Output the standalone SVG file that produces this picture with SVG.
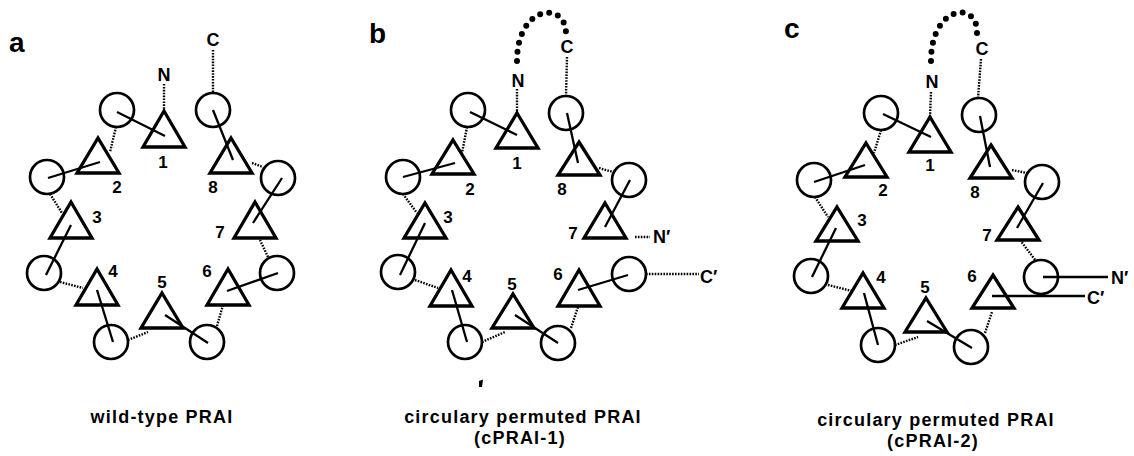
<svg xmlns="http://www.w3.org/2000/svg" width="1134" height="456" viewBox="0 0 1134 456">
  <style>
    .circ { fill: none; stroke: #000; stroke-width: 2.7; }
    .tri { fill: none; stroke: #000; stroke-width: 3.3; stroke-linejoin: miter; }
    .solid { fill: none; stroke: #000; stroke-width: 2.3; }
    .dot { fill: none; stroke: #000; stroke-width: 2.4; stroke-dasharray: 1.6 1.3; }
    .loop { fill: none; stroke: #000; stroke-width: 6; stroke-linecap: round; stroke-dasharray: 0 9.2; }
    .panel { font-family: "Liberation Sans", Arial, sans-serif; font-weight: bold; font-size: 28px; fill: #000; }
    .num { font-family: "Liberation Sans", Arial, sans-serif; font-weight: bold; font-size: 17px; fill: #000; text-anchor: middle; }
    .term { font-family: "Liberation Sans", Arial, sans-serif; font-weight: bold; font-size: 18px; fill: #000; }
    .cap { font-family: "Liberation Sans", Arial, sans-serif; font-weight: bold; font-size: 18px; letter-spacing: 1.2px; fill: #000; text-anchor: middle; }
  </style>

  <!-- ===== a: wild-type ===== -->
  <g id="panel-a">
    <text class="panel" x="9" y="52">a</text>
    <g id="a-connectors">
      <line class="dot" x1="164" y1="84" x2="164" y2="110"/>
      <line class="dot" x1="213" y1="50" x2="213" y2="93"/>
      <line class="dot" x1="116" y1="127" x2="110" y2="152"/>
      <line class="dot" x1="50" y1="194" x2="62" y2="213"/>
      <line class="dot" x1="60" y1="282" x2="83" y2="288"/>
      <line class="dot" x1="128" y1="340" x2="148" y2="332"/>
      <line class="dot" x1="217" y1="326" x2="223" y2="305"/>
      <line class="dot" x1="268" y1="257" x2="260" y2="240"/>
      <line class="dot" x1="252" y1="163" x2="263" y2="167"/>
      <line class="solid" x1="117" y1="112" x2="165" y2="136"/>
      <line class="solid" x1="48" y1="178" x2="100" y2="162"/>
      <line class="solid" x1="71" y1="225" x2="46" y2="275"/>
      <line class="solid" x1="97" y1="290" x2="113" y2="342"/>
      <line class="solid" x1="165" y1="315" x2="208" y2="343"/>
      <line class="solid" x1="227" y1="291" x2="278" y2="273"/>
      <line class="solid" x1="282" y1="178" x2="253" y2="223"/>
      <line class="solid" x1="213" y1="110" x2="233" y2="160"/>
    </g>
    <g id="a-b1"><circle class="circ" cx="117" cy="110" r="17"/></g>
    <g id="a-b2"><circle class="circ" cx="47" cy="177" r="17"/></g>
    <g id="a-b3"><circle class="circ" cx="44" cy="273" r="17"/></g>
    <g id="a-b4"><circle class="circ" cx="111" cy="342" r="17"/></g>
    <g id="a-b5"><circle class="circ" cx="207" cy="342" r="17"/></g>
    <g id="a-b6"><circle class="circ" cx="277" cy="273" r="17"/></g>
    <g id="a-b7"><circle class="circ" cx="278" cy="178" r="17"/></g>
    <g id="a-b8"><circle class="circ" cx="213" cy="110" r="17"/></g>
    <g id="a-h1"><path class="tri" d="M164,111 l21,36 h-42 z"/><text class="num" x="163" y="168">1</text></g>
    <g id="a-h2"><path class="tri" d="M98,138 l21,35 h-42 z"/><text class="num" x="117" y="193">2</text></g>
    <g id="a-h3"><path class="tri" d="M71,202 l21,36 h-42 z"/><text class="num" x="97" y="223">3</text></g>
    <g id="a-h4"><path class="tri" d="M97,269 l21,36 h-42 z"/><text class="num" x="113" y="277">4</text></g>
    <g id="a-h5"><path class="tri" d="M162,293 l21,35 h-42 z"/><text class="num" x="162" y="288">5</text></g>
    <g id="a-h6"><path class="tri" d="M228,269 l21,36 h-42 z"/><text class="num" x="207" y="277">6</text></g>
    <g id="a-h7"><path class="tri" d="M255,202 l21,36 h-42 z"/><text class="num" x="220" y="238">7</text></g>
    <g id="a-h8"><path class="tri" d="M231,138 l21,35 h-42 z"/><text class="num" x="213" y="193">8</text></g>
    <text class="term" x="164" y="81" text-anchor="middle">N</text>
    <text class="term" x="213" y="46" text-anchor="middle">C</text>
    <text class="cap" x="162" y="423">wild-type PRAI</text>
  </g>

  <!-- ===== b: cPRAI-1 ===== -->
  <g id="panel-b">
    <text class="panel" x="369" y="43">b</text>
    <g id="b-connectors">
      <path class="loop" d="M517,61 C517,5 566,0 566,34"/>
      <line class="dot" x1="517" y1="89" x2="517" y2="113"/>
      <line class="dot" x1="567" y1="57" x2="566" y2="96"/>
      <line class="dot" x1="467" y1="127" x2="462" y2="153"/>
      <line class="dot" x1="403" y1="194" x2="417" y2="213"/>
      <line class="dot" x1="415" y1="280" x2="438" y2="288"/>
      <line class="dot" x1="482" y1="342" x2="505" y2="332"/>
      <line class="dot" x1="571" y1="328" x2="578" y2="307"/>
      <line class="dot" x1="599" y1="168" x2="613" y2="172"/>
      <line class="dot" x1="635" y1="237" x2="650" y2="237"/>
      <line class="dot" x1="646" y1="274" x2="699" y2="274"/>
      <line class="solid" x1="470" y1="112" x2="517" y2="135"/>
      <line class="solid" x1="403" y1="177" x2="455" y2="163"/>
      <line class="solid" x1="425" y1="223" x2="400" y2="275"/>
      <line class="solid" x1="452" y1="290" x2="467" y2="342"/>
      <line class="solid" x1="515" y1="315" x2="558" y2="343"/>
      <line class="solid" x1="578" y1="290" x2="628" y2="275"/>
      <line class="solid" x1="630" y1="180" x2="605" y2="227"/>
      <line class="solid" x1="567" y1="113" x2="578" y2="163"/>
    </g>
    <g id="b-b1"><circle class="circ" cx="468" cy="110" r="17"/></g>
    <g id="b-b2"><circle class="circ" cx="403" cy="177" r="17"/></g>
    <g id="b-b3"><circle class="circ" cx="398" cy="272" r="17"/></g>
    <g id="b-b4"><circle class="circ" cx="465" cy="342" r="17"/></g>
    <g id="b-b5"><circle class="circ" cx="558" cy="343" r="17"/></g>
    <g id="b-b6"><circle class="circ" cx="629" cy="274" r="17"/></g>
    <g id="b-b7"><circle class="circ" cx="629" cy="180" r="17"/></g>
    <g id="b-b8"><circle class="circ" cx="566" cy="113" r="17"/></g>
    <g id="b-h1"><path class="tri" d="M517,113 l21,35 h-42 z"/><text class="num" x="517" y="169">1</text></g>
    <g id="b-h2"><path class="tri" d="M453,140 l21,34 h-42 z"/><text class="num" x="470" y="195">2</text></g>
    <g id="b-h3"><path class="tri" d="M425,203 l21,35 h-42 z"/><text class="num" x="448" y="223">3</text></g>
    <g id="b-h4"><path class="tri" d="M451,270 l21,36 h-42 z"/><text class="num" x="467" y="282">4</text></g>
    <g id="b-h5"><path class="tri" d="M513,294 l21,34 h-42 z"/><text class="num" x="512" y="290">5</text></g>
    <g id="b-h6"><path class="tri" d="M579,270 l21,36 h-42 z"/><text class="num" x="558" y="280">6</text></g>
    <g id="b-h7"><path class="tri" d="M605,203 l21,35 h-42 z"/><text class="num" x="573" y="239">7</text></g>
    <g id="b-h8"><path class="tri" d="M579,142 l21,33 h-42 z"/><text class="num" x="562" y="195">8</text></g>
    <text class="term" x="518" y="87" text-anchor="middle">N</text>
    <text class="term" x="567" y="53" text-anchor="middle">C</text>
    <text class="term" x="653" y="243">N′</text>
    <text class="term" x="700" y="283">C′</text>
    <path d="M479,381 L483,379.5 L482,387 L479,387 Z" fill="#000"/>
    <text class="cap" x="523" y="423">circulary permuted PRAI</text>
    <text class="cap" x="520" y="444">(cPRAI-1)</text>
  </g>

  <!-- ===== c: cPRAI-2 ===== -->
  <g id="panel-c">
    <text class="panel" x="784" y="38">c</text>
    <g id="c-connectors">
      <path class="loop" d="M931,61 C931,5 978,0 977,33"/>
      <line class="dot" x1="931" y1="92" x2="930" y2="117"/>
      <line class="dot" x1="981" y1="59" x2="978" y2="98"/>
      <line class="dot" x1="881" y1="130" x2="874" y2="153"/>
      <line class="dot" x1="815" y1="197" x2="828" y2="217"/>
      <line class="dot" x1="828" y1="285" x2="852" y2="291"/>
      <line class="dot" x1="895" y1="345" x2="918" y2="337"/>
      <line class="dot" x1="985" y1="333" x2="992" y2="312"/>
      <line class="dot" x1="1020" y1="240" x2="1036" y2="261"/>
      <line class="dot" x1="1012" y1="170" x2="1027" y2="173"/>
      <line class="solid" x1="883" y1="114" x2="931" y2="137"/>
      <line class="solid" x1="814" y1="182" x2="865" y2="165"/>
      <line class="solid" x1="836" y1="228" x2="812" y2="277"/>
      <line class="solid" x1="864" y1="293" x2="878" y2="345"/>
      <line class="solid" x1="927" y1="321" x2="972" y2="348"/>
      <line class="solid" x1="992" y1="296" x2="1085" y2="296"/>
      <line class="solid" x1="1043" y1="277" x2="1108" y2="277"/>
      <line class="solid" x1="1043" y1="183" x2="1017" y2="228"/>
      <line class="solid" x1="980" y1="116" x2="990" y2="167"/>
    </g>
    <g id="c-b1"><circle class="circ" cx="881" cy="113" r="17"/></g>
    <g id="c-b2"><circle class="circ" cx="814" cy="180" r="17"/></g>
    <g id="c-b3"><circle class="circ" cx="811" cy="276" r="17"/></g>
    <g id="c-b4"><circle class="circ" cx="878" cy="345" r="17"/></g>
    <g id="c-b5"><circle class="circ" cx="971" cy="347" r="17"/></g>
    <g id="c-b6"><circle class="circ" cx="1041" cy="277" r="17"/></g>
    <g id="c-b7"><circle class="circ" cx="1042" cy="182" r="17"/></g>
    <g id="c-b8"><circle class="circ" cx="979" cy="115" r="17"/></g>
    <g id="c-h1"><path class="tri" d="M930,117 l21,35 h-42 z"/><text class="num" x="930" y="171">1</text></g>
    <g id="c-h2"><path class="tri" d="M866,143 l21,34 h-42 z"/><text class="num" x="883" y="196">2</text></g>
    <g id="c-h3"><path class="tri" d="M837,207 l21,34 h-42 z"/><text class="num" x="862" y="226">3</text></g>
    <g id="c-h4"><path class="tri" d="M863,273 l21,35 h-42 z"/><text class="num" x="881" y="283">4</text></g>
    <g id="c-h5"><path class="tri" d="M926,298 l21,34 h-42 z"/><text class="num" x="925" y="293">5</text></g>
    <g id="c-h6"><path class="tri" d="M993,275 l21,33 h-42 z"/><text class="num" x="972" y="282">6</text></g>
    <g id="c-h7"><path class="tri" d="M1018,207 l21,33 h-42 z"/><text class="num" x="987" y="241">7</text></g>
    <g id="c-h8"><path class="tri" d="M991,145 l21,33 h-42 z"/><text class="num" x="975" y="198">8</text></g>
    <text class="term" x="932" y="88" text-anchor="middle">N</text>
    <text class="term" x="982" y="55" text-anchor="middle">C</text>
    <text class="term" x="1111" y="284">N′</text>
    <text class="term" x="1087" y="304">C′</text>
    <text class="cap" x="936" y="426">circulary permuted PRAI</text>
    <text class="cap" x="933" y="447">(cPRAI-2)</text>
  </g>
</svg>
